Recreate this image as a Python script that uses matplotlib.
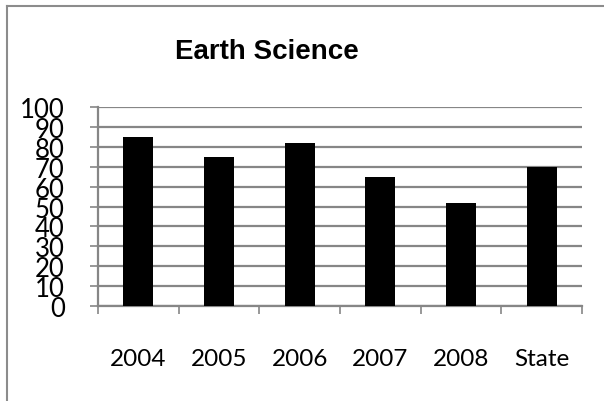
import matplotlib
matplotlib.use('Agg')
import matplotlib.pyplot as plt
import numpy as np
from matplotlib.lines import Line2D
from matplotlib import font_manager

years = ['2004', '2005', '2006', '2007', '2008', 'State']
scores = [85, 75, 82, 65, 52, 70]
y_ticks = list(range(0, 101, 10))

names = {f.name for f in font_manager.fontManager.ttflist}
title_font = 'Liberation Sans Narrow' if 'Liberation Sans Narrow' in names else 'Liberation Sans'
title_size = 24 if title_font == 'Liberation Sans Narrow' else 20

W, H = 604, 402
fig = plt.figure(figsize=(W / 100, H / 100), dpi=100)
ax = fig.add_axes([98 / W, 1 - 307 / H, (582 - 98) / W, (307 - 108) / H])

grid_col = '#868686'
x = np.arange(len(years))
ax.bar(x, scores, width=0.37, color='black', zorder=3)

ax.set_xlim(-0.5, len(years) - 0.5)
ax.set_ylim(0, 100)
ax.set_yticks(y_ticks)
ax.set_yticklabels([str(v) for v in y_ticks], fontsize=18.5, family='Lato')
ax.yaxis.grid(True, color=grid_col, linewidth=1.6, zorder=0)

ax.set_xticks(x)
ax.set_xticklabels(years, fontsize=17.5, family='Lato')
ax.set_xticks(np.arange(-0.5, len(years), 1), minor=True)
ax.tick_params(axis='x', which='major', length=0, pad=30)
ax.tick_params(axis='x', which='minor', length=6, width=1.2, color=grid_col, direction='out')
ax.tick_params(axis='y', length=6, width=1.2, color=grid_col, pad=18)

for s in ['top', 'right']:
    ax.spines[s].set_visible(False)
for s in ['left', 'bottom']:
    ax.spines[s].set_color(grid_col)
    ax.spines[s].set_linewidth(1.6)

fig.text(267 / W, 1 - 52 / H, 'Earth Science', ha='center', va='center',
         fontsize=title_size, fontweight='bold', family=title_font)

# outer chart border
fig.add_artist(Line2D([7 / W, 1], [1 - 7 / H, 1 - 7 / H], color='#8c8c8c', linewidth=1.5,
                      transform=fig.transFigure))
fig.add_artist(Line2D([7 / W, 7 / W], [0, 1 - 7 / H], color='#8c8c8c', linewidth=1.5,
                      transform=fig.transFigure))

fig.savefig('out.png', dpi=100)
